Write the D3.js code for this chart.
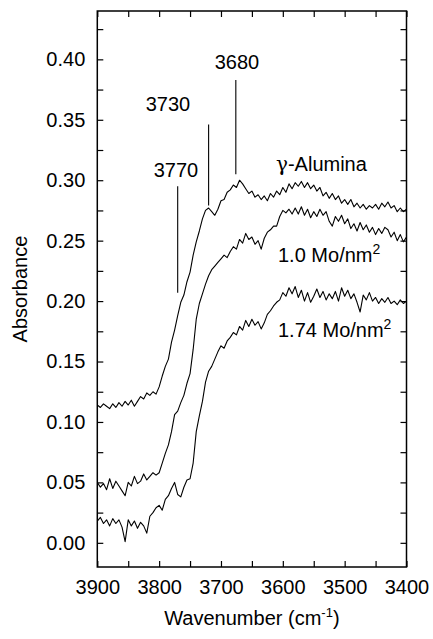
<!DOCTYPE html>
<html>
<head>
<meta charset="utf-8">
<script src="https://cdn.jsdelivr.net/npm/d3@7"></script>
<style>
  body { margin: 0; background: #fff; }
  svg { display: block; font-family: "Liberation Sans", Arial, sans-serif; }
</style>
</head>
<body>
<svg id="chart"></svg>
<script>
// wavenumber grid (cm-1), 5 cm-1 steps from 3900 down to 3400
const wavenumbers = [
  3900, 3895, 3890, 3885, 3880, 3875, 3870, 3865, 3860, 3855,
  3850, 3845, 3840, 3835, 3830, 3825, 3820, 3815, 3810, 3805,
  3800, 3795, 3790, 3785, 3780, 3775, 3770, 3765, 3760, 3755,
  3750, 3745, 3740, 3735, 3730, 3725, 3720, 3715, 3710, 3705,
  3700, 3695, 3690, 3685, 3680, 3675, 3670, 3665, 3660, 3655,
  3650, 3645, 3640, 3635, 3630, 3625, 3620, 3615, 3610, 3605,
  3600, 3595, 3590, 3585, 3580, 3575, 3570, 3565, 3560, 3555,
  3550, 3545, 3540, 3535, 3530, 3525, 3520, 3515, 3510, 3505,
  3500, 3495, 3490, 3485, 3480, 3475, 3470, 3465, 3460, 3455,
  3450, 3445, 3440, 3435, 3430, 3425, 3420, 3415, 3410, 3405,
  3400
]

const alumina = [
  0.114, 0.112, 0.115, 0.113, 0.111, 0.115, 0.112, 0.116, 0.113, 0.117,
  0.114, 0.118, 0.113, 0.117, 0.121, 0.119, 0.124, 0.122, 0.125, 0.123,
  0.129, 0.138, 0.146, 0.152, 0.166, 0.176, 0.188, 0.199, 0.205, 0.216,
  0.224, 0.238, 0.249, 0.258, 0.268, 0.275, 0.277, 0.274, 0.271, 0.276,
  0.283, 0.284, 0.290, 0.292, 0.296, 0.294, 0.300, 0.297, 0.293, 0.289,
  0.291, 0.286, 0.288, 0.284, 0.287, 0.283, 0.289, 0.286, 0.291, 0.288,
  0.294, 0.290, 0.297, 0.293, 0.298, 0.295, 0.299, 0.294, 0.298, 0.293,
  0.296, 0.291, 0.294, 0.287, 0.290, 0.285, 0.289, 0.284, 0.287, 0.281,
  0.284, 0.280, 0.284, 0.278, 0.281, 0.277, 0.280, 0.276, 0.279, 0.277,
  0.280, 0.276, 0.281, 0.278, 0.282, 0.277, 0.279, 0.274, 0.277, 0.274,
  0.276
]

const mo10 = [
  0.050, 0.046, 0.049, 0.044, 0.053, 0.045, 0.051, 0.047, 0.043, 0.039,
  0.050, 0.047, 0.055, 0.049, 0.051, 0.057, 0.052, 0.055, 0.058, 0.056,
  0.058, 0.066, 0.074, 0.081, 0.092, 0.106, 0.109, 0.116, 0.122, 0.132,
  0.140, 0.160, 0.185, 0.198, 0.206, 0.214, 0.221, 0.226, 0.229, 0.232,
  0.235, 0.238, 0.236, 0.241, 0.245, 0.243, 0.251, 0.248, 0.256, 0.251,
  0.253, 0.247, 0.250, 0.243, 0.252, 0.257, 0.259, 0.262, 0.262, 0.270,
  0.275, 0.273, 0.276, 0.272, 0.277, 0.272, 0.278, 0.271, 0.276, 0.269,
  0.274, 0.270, 0.276, 0.271, 0.274, 0.266, 0.262, 0.270, 0.266, 0.271,
  0.264, 0.268, 0.260, 0.264, 0.258, 0.265, 0.259, 0.263, 0.257, 0.261,
  0.255, 0.260, 0.256, 0.261, 0.259, 0.253, 0.257, 0.250, 0.255, 0.249,
  0.253
]

const mo174 = [
  0.018, 0.021, 0.016, 0.019, 0.014, 0.020, 0.016, 0.019, 0.013, 0.001,
  0.019, 0.014, 0.018, 0.012, 0.017, 0.014, 0.008, 0.022, 0.025, 0.029,
  0.031, 0.027, 0.036, 0.039, 0.045, 0.050, 0.040, 0.038, 0.046, 0.052,
  0.053, 0.066, 0.092, 0.105, 0.117, 0.133, 0.142, 0.146, 0.152, 0.158,
  0.163, 0.161, 0.167, 0.170, 0.174, 0.172, 0.179, 0.176, 0.184, 0.179,
  0.185, 0.180, 0.183, 0.177, 0.182, 0.189, 0.192, 0.196, 0.199, 0.201,
  0.207, 0.204, 0.211, 0.206, 0.212, 0.203, 0.209, 0.200, 0.207, 0.199,
  0.204, 0.210, 0.203, 0.208, 0.201, 0.206, 0.202, 0.208, 0.200, 0.211,
  0.204, 0.209, 0.202, 0.206, 0.199, 0.191, 0.205, 0.201, 0.207, 0.200,
  0.203, 0.198, 0.202, 0.199, 0.203, 0.198, 0.200, 0.197, 0.201, 0.198,
  0.200
]

// peak markers: where the line sits, what it says, and its vertical span
const peakPos = [3770, 3720, 3676]
const peakLabels = ['3770', '3730', '3680']
const peakLow = [0.207, 0.279, 0.305]
const peakHigh = [0.295, 0.346, 0.383]

const xTickLabels = [3900, 3800, 3700, 3600, 3500, 3400]
const yTickLabels = [0.00, 0.05, 0.10, 0.15, 0.20, 0.25, 0.30, 0.35, 0.40]

const width = 433
const height = 639
const padL = 97.3, padR = 406.5, padT = 11, padB = 567
const fs = 20

const svg = d3.select('#chart')
    .attr('width', width)
    .attr('height', height)

const x = d3.scaleLinear().domain([3900, 3400]).range([padL, padR])
const y = d3.scaleLinear().domain([-0.02, 0.44]).range([padB, padT])

const minorX = d3.range(3900, 3399, -50)
const minorY = d3.range(0, 0.4401, 0.025)

// axes, ticks point inward
svg.append('g')
    .attr('transform', `translate(0,${padB})`)
    .call(d3.axisBottom(x).tickValues(minorX).tickSizeInner(-6).tickSizeOuter(0).tickPadding(13)
        .tickFormat(d => xTickLabels.includes(d) ? d : ''))
svg.append('g')
    .attr('transform', `translate(0,${padT})`)
    .call(d3.axisTop(x).tickValues(minorX).tickSizeInner(-6).tickSizeOuter(0).tickFormat(''))
svg.append('g')
    .attr('transform', `translate(${padL},0)`)
    .call(d3.axisLeft(y).tickValues(minorY).tickSizeInner(-6).tickSizeOuter(0).tickPadding(12)
        .tickFormat(d => {
            const hit = yTickLabels.find(v => Math.abs(v - d) < 1e-6)
            return hit === undefined ? '' : d3.format('.2f')(hit)
        }))
svg.append('g')
    .attr('transform', `translate(${padR},0)`)
    .call(d3.axisRight(y).tickValues(minorY).tickSizeInner(-6).tickSizeOuter(0).tickFormat(''))

svg.selectAll('.domain').remove()
svg.selectAll('.tick line').attr('stroke', '#000').attr('stroke-width', 1.2)
svg.selectAll('.tick text')
    .attr('font-size', fs)
    .attr('font-family', '"Liberation Sans", Arial, sans-serif')
    .attr('fill', '#000')

svg.append('rect')
    .attr('x', padL).attr('y', padT)
    .attr('width', padR - padL).attr('height', padB - padT)
    .attr('fill', 'none')
    .attr('stroke', '#000')
    .attr('stroke-width', 1.5)

// spectra
const line = d3.line()
    .x((d, i) => x(wavenumbers[i]))
    .y(d => y(d))

const plot = svg.append('g')
for (const s of [alumina, mo10, mo174]) {
    plot.append('path')
        .datum(s)
        .attr('d', line)
        .attr('fill', 'none')
        .attr('stroke', '#000')
        .attr('stroke-width', 1.1)
        .attr('stroke-linejoin', 'round')
}

// peak marker lines + labels
plot.selectAll('.peak')
    .data(peakPos)
    .join('line')
    .attr('x1', d => x(d)).attr('x2', d => x(d))
    .attr('y1', (d, i) => y(peakLow[i]))
    .attr('y2', (d, i) => y(peakHigh[i]))
    .attr('stroke', '#000')
    .attr('stroke-width', 1.1)

const labelX = [176, 168, 237]
const labelY = [177, 111, 69]
peakLabels.forEach((t, i) => {
    svg.append('text')
        .attr('x', labelX[i]).attr('y', labelY[i])
        .attr('text-anchor', 'middle')
        .attr('font-size', fs)
        .text(t)
})

// series labels
const gam = svg.append('text')
    .attr('x', 276).attr('y', 171)
    .attr('font-size', fs)
gam.append('tspan').attr('font-family', '"DejaVu Serif", serif').text('γ')
gam.append('tspan').text('-Alumina')

const seriesLabels = [['1.0 Mo/nm', 278, 262], ['1.74 Mo/nm', 278, 337]]
for (const [t, lx, ly] of seriesLabels) {
    const txt = svg.append('text')
        .attr('x', lx).attr('y', ly)
        .attr('font-size', fs)
        .text(t)
    txt.append('tspan')
        .attr('dy', -8)
        .attr('font-size', 14)
        .text('2')
}

// axis titles
const xt = svg.append('text')
    .attr('x', (padL + padR) / 2).attr('y', 625)
    .attr('text-anchor', 'middle')
    .attr('font-size', fs)
    .text('Wavenumber (cm')
xt.append('tspan').attr('dy', -8).attr('font-size', 13).text('-1')
xt.append('tspan').attr('dy', 8).text(')')

svg.append('text')
    .attr('transform', `translate(27,${(padT + padB) / 2}) rotate(-90)`)
    .attr('text-anchor', 'middle')
    .attr('font-size', fs)
    .text('Absorbance')
</script>
</body>
</html>
